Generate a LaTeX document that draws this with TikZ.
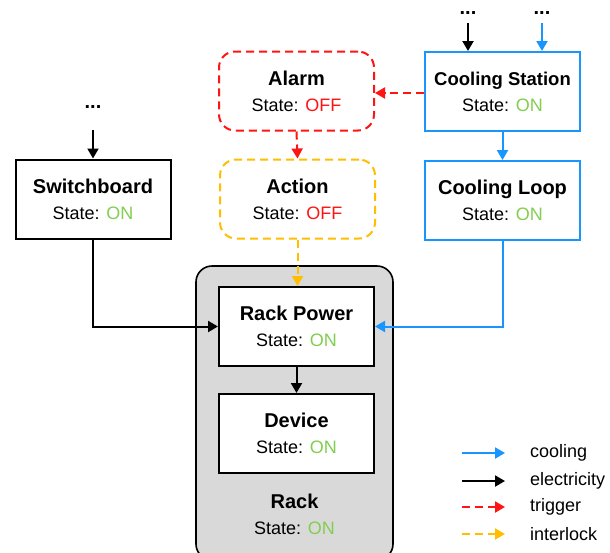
\documentclass[tikz,border=0pt]{standalone}
\usepackage{fontspec}
\setmainfont{Liberation Sans}
\usetikzlibrary{arrows.meta}
\definecolor{cblue}{RGB}{24,150,255}
\definecolor{cred}{RGB}{255,20,20}
\definecolor{corange}{RGB}{255,191,0}
\definecolor{cgreen}{RGB}{130,206,80}
\definecolor{cgray}{RGB}{217,217,217}
\newcommand{\onstate}{State: \textcolor{cgreen}{ON}}
\newcommand{\offstate}{State: \textcolor{cred}{OFF}}
\newcommand{\ttl}[2][20]{{\fontsize{#1}{26}\selectfont\bfseries #2}}
\begin{document}
\begin{tikzpicture}[x=1pt,y=-1pt,
  box/.style={draw, line width=2pt, fill=white, minimum width=155pt, minimum height=79pt,
    align=center, inner sep=0pt, font=\fontsize{18}{26}\selectfont},
  dbox/.style={box, rounded corners=16pt, dash pattern=on 8pt off 5pt},
  conn/.style={line width=2pt, -{Triangle[length=10pt,width=11pt]}},
  elec/.style={conn, black},
  cool/.style={conn, cblue},
  trig/.style={conn, cred, dash pattern=on 8pt off 5pt},
  ilock/.style={conn, corange, dash pattern=on 8pt off 5pt},
  txt/.style={font=\fontsize{18}{26}\selectfont, inner sep=0pt},
  dots/.style={font=\fontsize{20}{20}\selectfont\bfseries, inner sep=0pt, anchor=base}
]
\useasboundingbox (0,0) rectangle (610,552);

% rack container
\draw[line width=1.6pt, fill=cgray, rounded corners=16pt] (196,266) rectangle (393,560);
\node[txt, align=center] (racklabel) at (294.5,514) {\ttl{Rack}\\\onstate};

% boxes
\node[box, draw=cblue] (cs) at (502.5,91.5) {\ttl[18.5]{Cooling Station}\\\onstate};
\node[box, draw=cblue] (cl) at (502.5,200.5) {\ttl{Cooling Loop}\\\onstate};
\node[dbox, draw=cred] (alarm) at (296.5,91) {\ttl{Alarm}\\\offstate};
\node[dbox, draw=corange] (action) at (297.5,199) {\ttl{Action}\\\offstate};
\node[box] (sw) at (93,199) {\ttl{Switchboard}\\\onstate};
\node[box] (rp) at (296.5,326.5) {\ttl{Rack Power}\\\onstate};
\node[box] (dev) at (296.5,433.5) {\ttl{Device}\\\onstate};

% dots and inputs
\node[dots] (d1) at (468,14) {...};
\node[dots] (d2) at (542,14) {...};
\node[dots] (d3) at (93,108) {...};
\coordinate (i1) at (468,23);
\coordinate (i2) at (542,23);
\coordinate (i3) at (93,130);
\draw[elec] (i1) -- (i1 |- cs.north);
\draw[cool] (i2) -- (i2 |- cs.north);
\draw[elec] (i3) -- (sw.north);

% connectors
\draw[trig] (cs.west |- 0,93) -- (alarm.east |- 0,93);
\draw[trig] (alarm.south) -- (action.north);
\draw[ilock] (action.south) -- (action.south |- rp.north);
\draw[cool] (cs.south) -- (cl.north);
\draw[cool] (cl.south) |- (rp.east);
\draw[elec] (sw.south) |- (rp.west);
\draw[elec] (rp.south) -- (dev.north);

% legend
\coordinate (l1a) at (462,453); \coordinate (l1b) at (505,453);
\coordinate (l2a) at (462,481); \coordinate (l2b) at (505,481);
\coordinate (l3a) at (462,507); \coordinate (l3b) at (505,507);
\coordinate (l4a) at (462,534); \coordinate (l4b) at (505,534);
\draw[cool] (l1a) -- (l1b);
\draw[elec] (l2a) -- (l2b);
\draw[trig] (l3a) -- (l3b);
\draw[ilock] (l4a) -- (l4b);
\node[txt, anchor=west] (t1) at (530,453) {cooling};
\node[txt, anchor=west] (t2) at (530,481) {electricity};
\node[txt, anchor=west] (t3) at (530,507) {trigger};
\node[txt, anchor=west] (t4) at (530,534) {interlock};
\end{tikzpicture}
\end{document}
